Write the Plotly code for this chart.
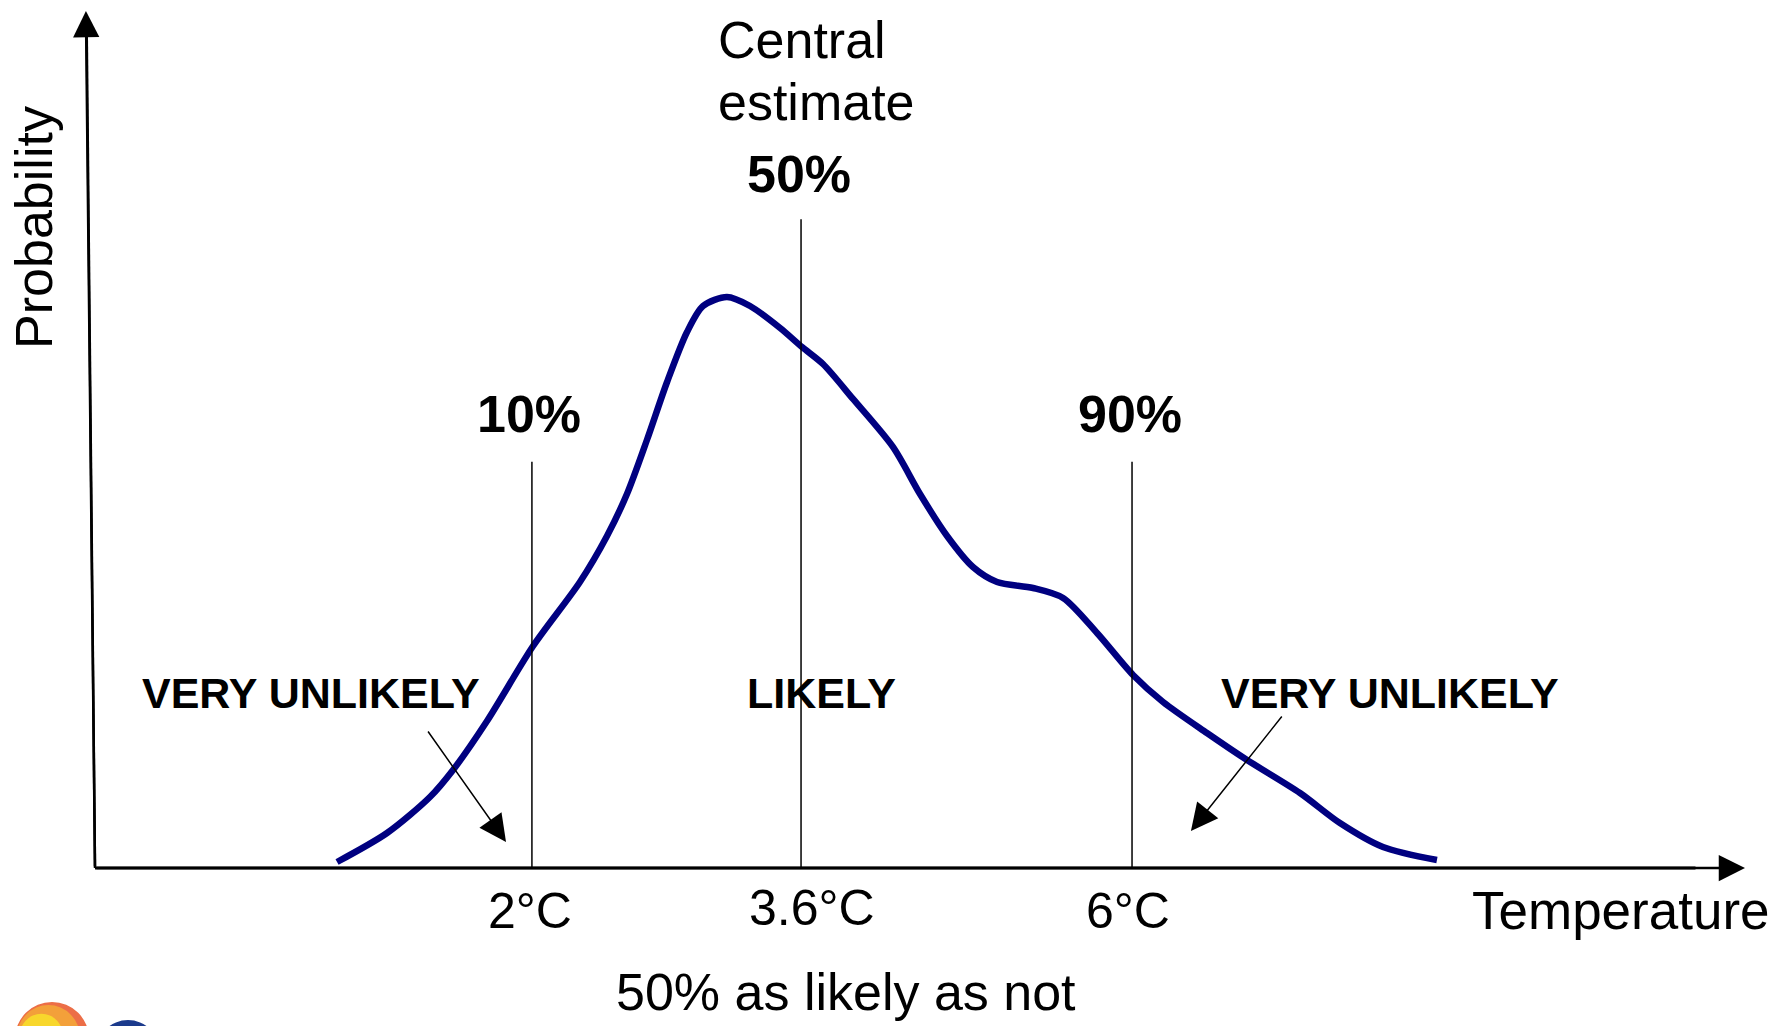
import plotly.graph_objects as go

# ---- data (schematic units: x 0..100 along temperature axis, y 0..100 probability axis) ----
curve_x = [14.67, 17.70, 20.30, 21.70, 23.76, 26.55, 29.39, 31.03, 32.24, 33.45, 34.67, 35.88,
           36.85, 38.30, 39.70, 41.52, 42.85, 44.12, 45.94, 48.36, 50.00, 51.64, 53.21, 54.67,
           56.85, 58.67, 60.73, 62.91, 64.73, 67.39, 69.82, 73.03, 75.45, 78.06, 81.33]
curve_y = [0.70, 4.08, 8.28, 11.44, 17.15, 25.90, 33.37, 38.74, 43.64, 49.94, 56.71, 62.54,
           65.58, 66.63, 65.58, 63.01, 60.79, 58.81, 54.73, 49.13, 43.64, 38.74, 35.12, 33.37,
           32.67, 31.51, 27.42, 22.52, 19.37, 15.75, 12.60, 8.75, 5.25, 2.45, 0.93]

percentile_labels = ["10%", "50%", "90%"]
percentile_x = [26.48, 42.79, 62.85]
percentile_top = [47.4, 75.7, 47.4]
temp_labels = ["2°C", "3.6°C", "6°C"]
zone_labels = ["VERY UNLIKELY", "LIKELY", "VERY UNLIKELY"]
zone_x = [13.1, 44.0, 78.5]

FONT = "Arial, Liberation Sans, sans-serif"
NAVY = "#000080"

fig = go.Figure()

# probability curve
fig.add_trace(go.Scatter(x=curve_x, y=curve_y, mode="lines",
                         line=dict(color=NAVY, width=6.5, shape="spline", smoothing=0.8),
                         hoverinfo="skip", showlegend=False))

shapes = []
# percentile vertical lines
for px, top in zip(percentile_x, percentile_top):
    shapes.append(dict(type="line", xref="x", yref="y", x0=px, x1=px, y0=0, y1=top,
                       line=dict(color="black", width=1.5)))

# logo fragments (bottom-left)
shapes += [
    dict(type="circle", xref="x", yref="y", x0=-4.85, x1=-0.36, y0=-24.27, y1=-15.64,
         fillcolor="#ec6e47", line=dict(width=0)),
    dict(type="circle", xref="x", yref="y", x0=-4.75, x1=-0.9, y0=-23.6, y1=-16.0,
         fillcolor="#f3a03a", line=dict(width=0)),
    dict(type="circle", xref="x", yref="y", x0=-4.6, x1=-1.9, y0=-22.6, y1=-17.0,
         fillcolor="#f8d72c", line=dict(width=0)),
    dict(type="circle", xref="x", yref="y", x0=0.09, x1=3.91, y0=-25.09, y1=-17.74,
         fillcolor="#1b3a8c", line=dict(width=0)),
]

ann = []
# axes with arrowheads
ann.append(dict(x=-0.55, y=100, ax=0, ay=0, xref="x", yref="y", axref="x", ayref="y",
                text="", showarrow=True, arrowhead=2, arrowsize=2.1, arrowwidth=2.5,
                arrowcolor="black"))
ann.append(dict(x=100, y=0, ax=0, ay=0, xref="x", yref="y", axref="x", ayref="y",
                text="", showarrow=True, arrowhead=2, arrowsize=2.1, arrowwidth=2.5,
                arrowcolor="black"))

# pointer arrows
ann.append(dict(x=24.91, y=3.03, ax=20.12, ay=16.10, xref="x", yref="y", axref="x", ayref="y",
                text="", showarrow=True, arrowhead=2, arrowsize=3.6, arrowwidth=1.5,
                arrowcolor="black"))
ann.append(dict(x=66.42, y=4.32, ax=72.0, ay=17.85, xref="x", yref="y", axref="x", ayref="y",
                text="", showarrow=True, arrowhead=2, arrowsize=3.6, arrowwidth=1.5,
                arrowcolor="black"))

def txt(x, y, s, size, bold=False, xanchor="center", angle=0):
    return dict(x=x, y=y, xref="x", yref="y", text=(f"<b>{s}</b>" if bold else s),
                showarrow=False, xanchor=xanchor, yanchor="middle", textangle=angle,
                font=dict(family=FONT, size=size, color="black"))

ann.append(txt(37.64, 96.6, "Central", 52, xanchor="left"))
ann.append(txt(37.64, 89.4, "estimate", 52, xanchor="left"))

pct_y = [53.0, 81.0, 53.0]
for px, lab, py in zip(percentile_x, percentile_labels, pct_y):
    ann.append(txt(px - 0.15, py, lab, 52, bold=True))

for zx, lab in zip(zone_x, zone_labels):
    ann.append(txt(zx, 20.4, lab, 43, bold=True))

temp_x = [26.36, 43.45, 62.61]
temp_y = [-5.0, -4.65, -5.0]
for tx, lab, ty in zip(temp_x, temp_labels, temp_y):
    ann.append(txt(tx, ty, lab, 50))

ann.append(txt(92.48, -5.0, "Temperature", 53))
ann.append(txt(-3.7, 74.8, "Probability", 52, angle=-90))
ann.append(txt(45.52, -14.5, "50% as likely as not", 52))

# axis lines (y slightly slanted as in the drawing)
shapes.append(dict(type="line", xref="x", yref="y", x0=0, y0=0, x1=-0.5, y1=97,
                   line=dict(color="black", width=2.5)))
shapes.append(dict(type="line", xref="x", yref="y", x0=0, y0=0, x1=97, y1=0,
                   line=dict(color="black", width=3)))

fig.update_layout(
    width=1779, height=1026,
    margin=dict(l=0, r=0, t=0, b=0),
    paper_bgcolor="white", plot_bgcolor="white",
    xaxis=dict(range=[-95 / 16.5, 1684 / 16.5], visible=False, fixedrange=True),
    yaxis=dict(range=[-158 / 8.57, 868 / 8.57], visible=False, fixedrange=True),
    shapes=shapes, annotations=ann, showlegend=False,
)

fig.write_html("out.html", config={"displayModeBar": False},
               post_script="document.body.style.margin='0';document.body.style.overflow='hidden';")
